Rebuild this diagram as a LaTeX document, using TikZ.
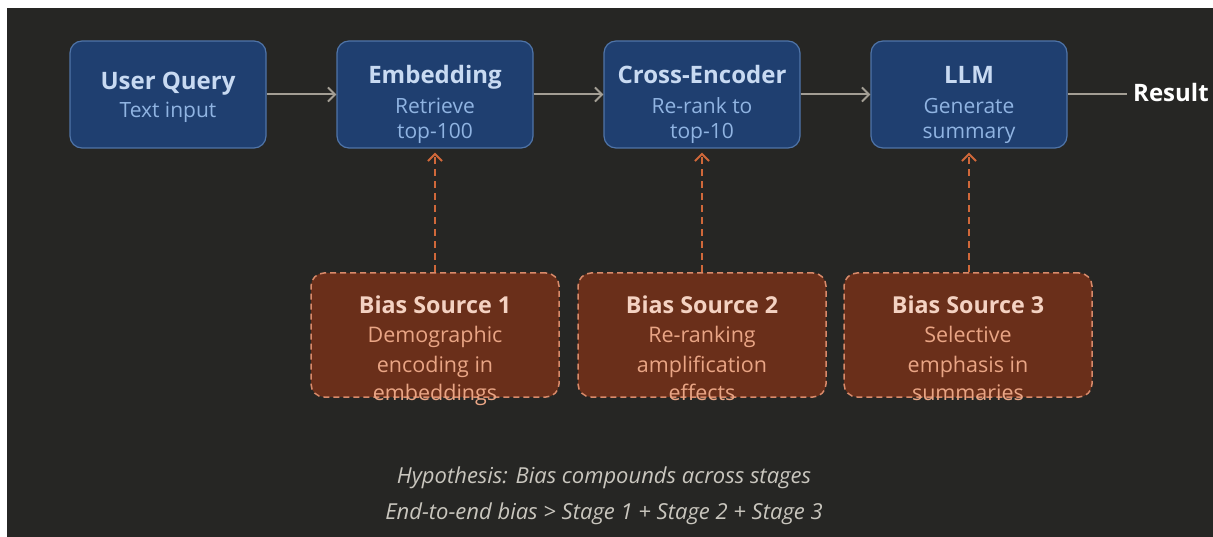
\documentclass[tikz,border=0pt]{standalone}
\usepackage{fontspec}
\setmainfont{Open Sans}
\usetikzlibrary{arrows.meta}
\definecolor{bg}{HTML}{262624}
\definecolor{bluefill}{HTML}{1F3F70}
\definecolor{blueedge}{HTML}{4F74A8}
\definecolor{bluetitle}{HTML}{C8DAF2}
\definecolor{bluesub}{HTML}{90B4E2}
\definecolor{brownfill}{HTML}{6A2F1A}
\definecolor{brownedge}{HTML}{D98A6A}
\definecolor{browntitle}{HTML}{F4D2C2}
\definecolor{brownsub}{HTML}{E9A585}
\definecolor{arrowgray}{HTML}{A39E94}
\definecolor{dasharrow}{HTML}{D0683A}
\definecolor{notegray}{HTML}{C9C6BE}
\tikzset{
  x=1pt, y=-1pt,
  stagebox/.style={draw=blueedge, fill=bluefill, line width=1.2pt, rounded corners=12pt, minimum width=196pt, minimum height=107pt, inner sep=0pt},
  biasbox/.style={draw=brownedge, fill=brownfill, line width=1.5pt, dash pattern=on 6pt off 4pt, rounded corners=13pt, minimum width=248pt, minimum height=124pt, inner sep=0pt},
  ttl/.style={text=bluetitle, font=\fontsize{24}{28}\selectfont\bfseries, inner sep=0pt, anchor=base},
  sub/.style={text=bluesub, font=\fontsize{21}{25}\selectfont, inner sep=0pt, anchor=base},
  bttl/.style={text=browntitle, font=\fontsize{23.3}{27}\selectfont\bfseries, inner sep=0pt, anchor=base},
  bsub/.style={text=brownsub, font=\fontsize{21.5}{25}\selectfont, inner sep=0pt, anchor=base},
  flow/.style={draw=arrowgray, line width=2pt, -{Straight Barb[length=7pt,width=14pt,line width=2pt]}},
  biasflow/.style={draw=dasharrow, line width=2pt, dash pattern=on 7pt off 5pt, -{Straight Barb[length=7pt,width=14pt,line width=2pt]}},
  note/.style={text=notegray, font=\fontsize{22}{26}\selectfont\itshape, inner sep=0pt}
}
\begin{document}
\begin{tikzpicture}
\useasboundingbox (0,0) rectangle (1213,537);
\fill[white] (0,0) rectangle (1213,537);
\fill[bg] (7,8) rectangle (1213,537);

% stage boxes
\node[stagebox] (uq) at (168,94.5) {};
\node[stagebox] (emb) at (435,94.5) {};
\node[stagebox] (ce) at (702,94.5) {};
\node[stagebox] (llm) at (969,94.5) {};

\node[ttl] (uqt) at (168,90) {User Query};
\node[sub] (uqs) at (168,118) {Text input};

\node[ttl] (embt) at (435,84) {Embedding};
\node[sub] (embs1) at (435,114) {Retrieve};
\node[sub] (embs2) at (435,139) {top-100};

\node[ttl] (cet) at (702,84) {Cross-Encoder};
\node[sub] (ces1) at (702,114) {Re-rank to};
\node[sub] (ces2) at (702,139) {top-10};

\node[ttl] (llmt) at (969,84) {LLM};
\node[sub] (llms1) at (969,114) {Generate};
\node[sub] (llms2) at (969,139) {summary};

\node[text=white, font=\fontsize{24}{28}\selectfont\bfseries, inner sep=0pt, anchor=west] (res) at (1133,93) {Result};

% flow arrows
\draw[flow] (uq.east) -- (emb.west);
\draw[flow] (emb.east) -- (ce.west);
\draw[flow] (ce.east) -- (llm.west);
\draw[draw=arrowgray, line width=2pt] (llm.east) -- ([xshift=-6pt]llm.east -| res.west);

% bias boxes
\node[biasbox] (b1) at (435,335) {};
\node[biasbox] (b2) at (702,335) {};
\node[biasbox] (b3) at (968,335) {};

\node[bttl] (b1t) at (435,314) {Bias Source 1};
\node[bsub] (b1a) at (435,343) {Demographic};
\node[bsub] (b1b) at (435,372) {encoding in};
\node[bsub] (b1c) at (435,400) {embeddings};

\node[bttl] (b2t) at (702,314) {Bias Source 2};
\node[bsub] (b2a) at (702,343) {Re-ranking};
\node[bsub] (b2b) at (702,372) {amplification};
\node[bsub] (b2c) at (702,400) {effects};

\node[bttl] (b3t) at (968,314) {Bias Source 3};
\node[bsub] (b3a) at (968,343) {Selective};
\node[bsub] (b3b) at (968,372) {emphasis in};
\node[bsub] (b3c) at (968,400) {summaries};

\draw[biasflow] (b1.north) -- ([yshift=-4pt]emb.south);
\draw[biasflow] (b2.north) -- ([yshift=-4pt]ce.south);
\draw[biasflow] (b3.north -| llm.south) -- ([yshift=-4pt]llm.south);

% notes
\node[note] (n1) at (604,478) {Hypothesis: Bias compounds across stages};
\node[note] (n2) at (604,514) {End-to-end bias > Stage 1 + Stage 2 + Stage 3};
\end{tikzpicture}
\end{document}
